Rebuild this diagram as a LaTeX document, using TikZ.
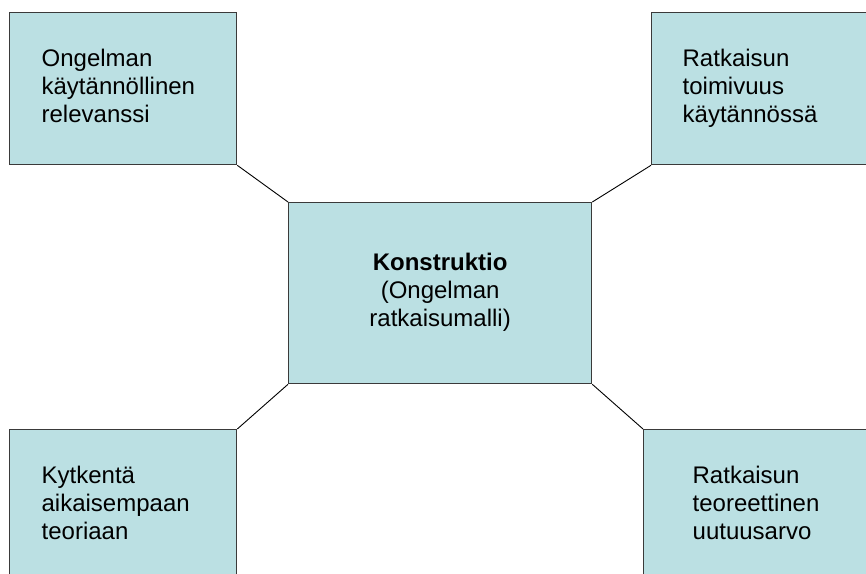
\documentclass[tikz,border=0pt]{standalone}
\usepackage{fontspec}
\setmainfont{Liberation Sans}
\definecolor{boxfill}{HTML}{BBE0E3}
\definecolor{boxline}{HTML}{3A3A3A}
\tikzset{
  box/.style={draw=boxline, line width=1.3pt, fill=boxfill, anchor=north west,
    inner ysep=0pt, font=\fontsize{24}{28}\selectfont, minimum height=152pt},
  link/.style={draw=black, line width=0.9pt}
}
\begin{document}
\begin{tikzpicture}[x=1pt,y=-1pt]
\useasboundingbox (0,0) rectangle (866,573);
\clip (0,0) rectangle (866,573);
\node[box, align=left, text width=163pt, inner xsep=32pt, minimum width=227pt] (tl) at (9,12)
  {\strut Ongelman\\käytännöllinen\\relevanssi\strut};
\node[box, align=left, text width=200pt, inner xsep=31pt, minimum width=262pt] (tr) at (651,12)
  {\strut Ratkaisun\\toimivuus\\käytännössä\strut};
\node[box, align=left, text width=163pt, inner xsep=32pt, minimum width=227pt] (bl) at (9,429)
  {\strut Kytkentä\\aikaisempaan\\teoriaan\strut};
\node[box, align=left, text width=180pt, inner xsep=49pt, minimum width=278pt] (br) at (643,429)
  {\strut Ratkaisun\\teoreettinen\\uutuusarvo\strut};
\node[box, align=center, text width=240pt, inner xsep=31.5pt, minimum width=303pt, minimum height=181pt] (c) at (288,202)
  {\strut\textbf{Konstruktio}\\(Ongelman\\ratkaisumalli)\strut};
\draw[link] (tl.south east) -- (c.north west);
\draw[link] (tr.south west) -- (c.north east);
\draw[link] (bl.north east) -- (c.south west);
\draw[link] (br.north west) -- (c.south east);
\end{tikzpicture}
\end{document}
